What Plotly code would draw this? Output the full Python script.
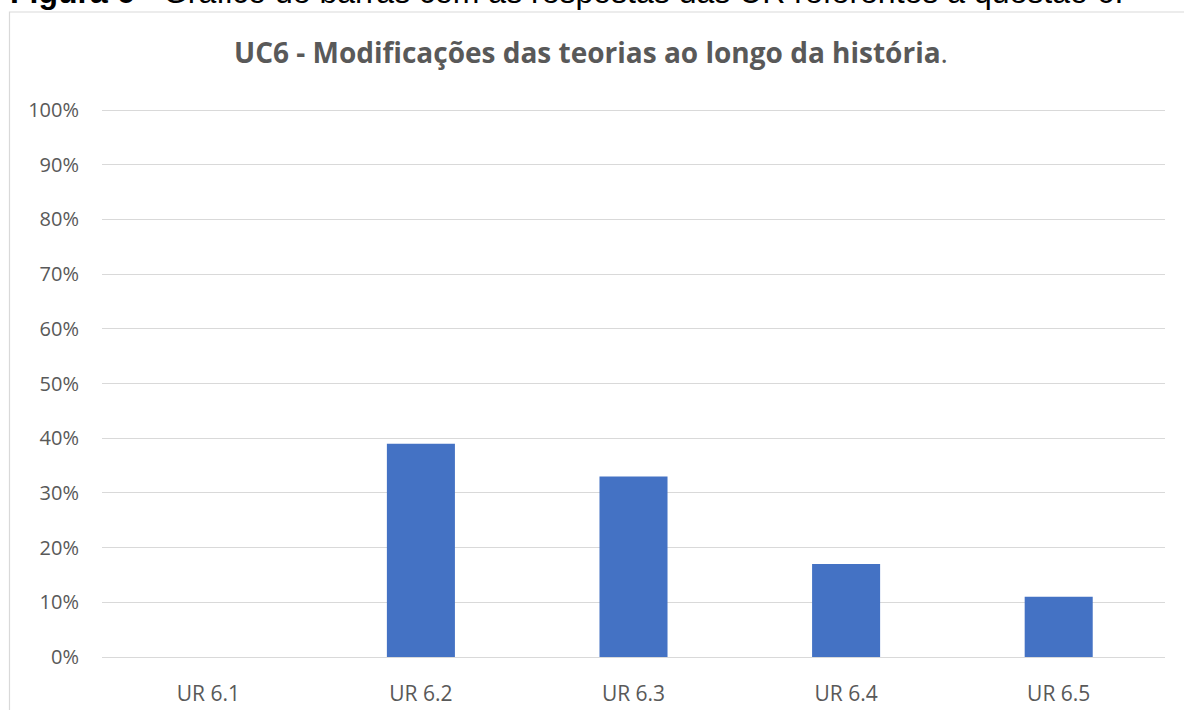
import plotly.graph_objects as go

categories = ["UR 6.1", "UR 6.2", "UR 6.3", "UR 6.4", "UR 6.5"]
values = [0.0, 0.39, 0.33, 0.17, 0.11]
y_ticks = [0, 0.1, 0.2, 0.3, 0.4, 0.5, 0.6, 0.7, 0.8, 0.9, 1.0]
y_tick_labels = ["0%", "10%", "20%", "30%", "40%", "50%", "60%", "70%", "80%", "90%", "100%"]

W, H = 1184, 710
ML, MR, MT, MB = 102, 19, 109, 53
PW = W - ML - MR
PH = H - MT - MB

def px_x(p):
    return (p - ML) / PW

def px_y(p):
    return (H - MB - p) / PH

GRAY = "#595959"
FONT = "Open Sans, Lato, sans-serif"

fig = go.Figure()
fig.add_trace(go.Bar(
    x=categories, y=values,
    marker=dict(color="#4472C4", line=dict(width=0)),
    width=0.32,
    hoverinfo="x+y",
))

fig.update_layout(
    width=W, height=H,
    margin=dict(l=ML, r=MR, t=MT, b=MB, autoexpand=False),
    paper_bgcolor="white", plot_bgcolor="white",
    showlegend=False,
    font=dict(family=FONT, color=GRAY),
    xaxis=dict(
        showgrid=False, showline=False, zeroline=False, ticks="",
        tickfont=dict(size=21, color=GRAY, family=FONT),
        ticklabelstandoff=22, automargin=False,
        range=[-0.5, 4.5],
    ),
    yaxis=dict(
        range=[0, 1.002], tickvals=y_ticks, ticktext=y_tick_labels,
        showgrid=True, gridcolor="#d9d9d9", gridwidth=1,
        zeroline=True, zerolinecolor="#d9d9d9", zerolinewidth=1,
        showline=False, ticks="", automargin=False,
        tickfont=dict(size=20, color=GRAY, family=FONT),
        ticklabelstandoff=22,
    ),
)

# Chart frame (extends off page on right and bottom)
fig.add_shape(type="rect", xref="paper", yref="paper",
              x0=px_x(9.5), x1=px_x(W + 20), y0=px_y(H + 20), y1=px_y(12),
              line=dict(color="#d9d9d9", width=1.2), fillcolor="rgba(0,0,0,0)", layer="below")

# Chart title
fig.add_annotation(
    xref="paper", yref="paper", x=px_x(591), y=px_y(52),
    xanchor="center", yanchor="middle", showarrow=False,
    text="<b>UC6 - Modificações das teorias ao longo da história</b>.",
    font=dict(size=28, color=GRAY, family=FONT),
)

# Document caption (cut off at top)
fig.add_annotation(
    xref="paper", yref="paper", x=px_x(8), y=px_y(-8.5),
    xanchor="left", yanchor="middle", showarrow=False,
    text="<b>Figura 6</b> - Gráfico de barras com as respostas das UR referentes à questão 6.",
    font=dict(size=32, color="black", family="Liberation Sans, Arial, sans-serif"),
)

fig.write_html(
    "out.html",
    config={"displayModeBar": False},
    post_script="document.body.style.margin='0';document.body.style.overflow='hidden';",
)
